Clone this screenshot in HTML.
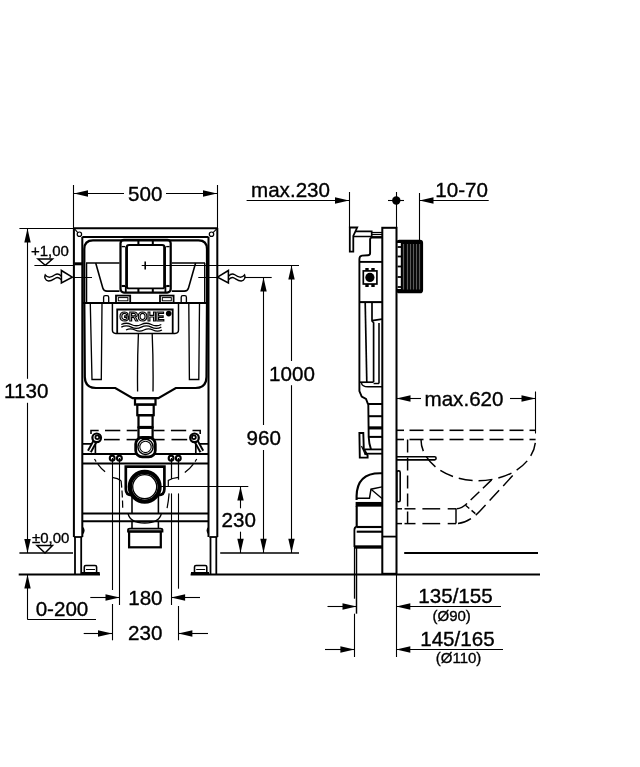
<!DOCTYPE html>
<html><head><meta charset="utf-8"><style>
html,body{margin:0;padding:0;background:#fff;width:640px;height:767px;overflow:hidden}
svg{display:block;will-change:transform}
text{font-family:"Liberation Sans",sans-serif;fill:#000;stroke:#000;stroke-width:0.35px}
</style></head><body>
<svg width="640" height="767" viewBox="0 0 640 767" stroke="#000" fill="none" stroke-linecap="butt">
<line x1="73.5" y1="185" x2="73.5" y2="228" stroke-width="1.1" />
<line x1="217.5" y1="185" x2="217.5" y2="228" stroke-width="1.1" />
<line x1="74" y1="193.5" x2="124" y2="193.5" stroke-width="1.1" />
<line x1="166" y1="193.5" x2="217" y2="193.5" stroke-width="1.1" />
<path d="M74,193.5 L88,190.3 L88,196.7 Z" fill="#000" stroke="none"/>
<path d="M217,193.5 L203,190.3 L203,196.7 Z" fill="#000" stroke="none"/>
<text x="145.3" y="200.7" font-size="20.6" text-anchor="middle" >500</text>
<line x1="19.4" y1="228.5" x2="74" y2="228.5" stroke-width="1.1" />
<line x1="27.5" y1="228.5" x2="27.5" y2="378.8" stroke-width="1.1" />
<line x1="27.5" y1="402.8" x2="27.5" y2="553" stroke-width="1.1" />
<path d="M27.5,228.5 L24.3,242.5 L30.7,242.5 Z" fill="#000" stroke="none"/>
<path d="M27.5,553 L24.3,539 L30.7,539 Z" fill="#000" stroke="none"/>
<text x="26.2" y="398.1" font-size="20.6" text-anchor="middle" >1130</text>
<line x1="34.4" y1="265.5" x2="74" y2="265.5" stroke-width="1.1" />
<text x="31" y="255.6" font-size="15" text-anchor="start" >+1,00</text>
<line x1="19.4" y1="553" x2="73" y2="553" stroke-width="1.57" />
<text x="32" y="543.1" font-size="15" text-anchor="start" >±0,00</text>
<line x1="27.5" y1="574.4" x2="27.5" y2="619" stroke-width="1.1" />
<line x1="27.2" y1="619.5" x2="96" y2="619.5" stroke-width="1.1" />
<path d="M27.5,574.4 L24.3,588.4 L30.7,588.4 Z" fill="#000" stroke="none"/>
<text x="62" y="616.3" font-size="20.6" text-anchor="middle" >0-200</text>
<line x1="18.7" y1="574.4" x2="100" y2="574.4" stroke-width="2.02" />
<line x1="190.6" y1="574.4" x2="540" y2="574.4" stroke-width="2.02" />
<line x1="112.5" y1="458" x2="112.5" y2="590" stroke-width="1.1" />
<line x1="112.5" y1="604" x2="112.5" y2="640.3" stroke-width="1.1" />
<line x1="119.5" y1="458" x2="119.5" y2="605" stroke-width="1.1" />
<line x1="171.5" y1="458" x2="171.5" y2="479" stroke-width="1.23" />
<line x1="171.5" y1="493.4" x2="171.5" y2="605" stroke-width="1.1" />
<line x1="178.5" y1="458" x2="178.5" y2="479.7" stroke-width="1.23" />
<line x1="178.5" y1="493.4" x2="178.5" y2="588.7" stroke-width="1.1" />
<line x1="178.5" y1="606" x2="178.5" y2="640.3" stroke-width="1.1" />
<path d="M178.3,477.3 L172.6,478.5 L168.3,480.5 L168.3,486.7" stroke-width="1.23" fill="none" />
<line x1="90.3" y1="597.5" x2="119.5" y2="597.5" stroke-width="1.1" />
<path d="M119.5,597.5 L105.5,594.3 L105.5,600.7 Z" fill="#000" stroke="none"/>
<line x1="171.1" y1="597.5" x2="200" y2="597.5" stroke-width="1.1" />
<path d="M171.1,597.5 L185.1,594.3 L185.1,600.7 Z" fill="#000" stroke="none"/>
<text x="145.4" y="605" font-size="20.6" text-anchor="middle" >180</text>
<line x1="83.7" y1="633.5" x2="112" y2="633.5" stroke-width="1.1" />
<path d="M112,633.5 L98,630.3 L98,636.7 Z" fill="#000" stroke="none"/>
<line x1="178.4" y1="633.5" x2="208" y2="633.5" stroke-width="1.1" />
<path d="M178.4,633.5 L192.4,630.3 L192.4,636.7 Z" fill="#000" stroke="none"/>
<text x="145.3" y="640.3" font-size="20.6" text-anchor="middle" >230</text>
<line x1="217" y1="265.5" x2="299" y2="265.5" stroke-width="1.1" />
<line x1="244.6" y1="277.5" x2="271.7" y2="277.5" stroke-width="1.1" />
<line x1="291.5" y1="265.4" x2="291.5" y2="361" stroke-width="1.1" />
<line x1="291.5" y1="385.2" x2="291.5" y2="553" stroke-width="1.1" />
<path d="M291.5,265.4 L288.3,279.4 L294.7,279.4 Z" fill="#000" stroke="none"/>
<path d="M291.5,552.8 L288.3,538.8 L294.7,538.8 Z" fill="#000" stroke="none"/>
<line x1="263.5" y1="277.4" x2="263.5" y2="425" stroke-width="1.1" />
<line x1="263.5" y1="450" x2="263.5" y2="553" stroke-width="1.1" />
<path d="M263.5,277.4 L260.3,291.4 L266.7,291.4 Z" fill="#000" stroke="none"/>
<path d="M263.5,552.8 L260.3,538.8 L266.7,538.8 Z" fill="#000" stroke="none"/>
<text x="292" y="380.5" font-size="20.6" text-anchor="middle" >1000</text>
<text x="263.7" y="445.3" font-size="20.6" text-anchor="middle" >960</text>
<line x1="144" y1="486.5" x2="248.3" y2="486.5" stroke-width="1.1" />
<line x1="240.5" y1="486.5" x2="240.5" y2="508.3" stroke-width="1.1" />
<line x1="240.5" y1="531.7" x2="240.5" y2="553" stroke-width="1.1" />
<path d="M240.5,486.5 L237.3,500.5 L243.7,500.5 Z" fill="#000" stroke="none"/>
<path d="M240.5,552.8 L237.3,538.8 L243.7,538.8 Z" fill="#000" stroke="none"/>
<text x="238.7" y="527" font-size="20.6" text-anchor="middle" >230</text>
<line x1="220.2" y1="553" x2="299" y2="553" stroke-width="1.57" />
<line x1="73.9" y1="228" x2="73.9" y2="537" stroke-width="2.02" />
<line x1="217.3" y1="228" x2="217.3" y2="537" stroke-width="2.02" />
<line x1="73.9" y1="228.2" x2="217.3" y2="228.2" stroke-width="2.02" />
<line x1="82.3" y1="237" x2="82.3" y2="537" stroke-width="2.02" />
<line x1="208.5" y1="237" x2="208.5" y2="537" stroke-width="2.02" />
<line x1="82.3" y1="237" x2="208.5" y2="237" stroke-width="2.02" />
<line x1="73.9" y1="537" x2="82.3" y2="537" stroke-width="1.79" />
<line x1="209.4" y1="537" x2="217.3" y2="537" stroke-width="1.79" />
<line x1="75" y1="537" x2="75" y2="574" stroke-width="1.79" />
<line x1="81.2" y1="537" x2="81.2" y2="574" stroke-width="1.79" />
<line x1="210.5" y1="537" x2="210.5" y2="574" stroke-width="1.79" />
<line x1="216.3" y1="537" x2="216.3" y2="574" stroke-width="1.79" />
<line x1="82.3" y1="454" x2="208.5" y2="454" stroke-width="2.02" />
<line x1="82.3" y1="463.4" x2="208.5" y2="463.4" stroke-width="2.02" />
<line x1="82.3" y1="513.4" x2="208.5" y2="513.4" stroke-width="2.02" />
<line x1="82.3" y1="521.3" x2="208.5" y2="521.3" stroke-width="2.02" />
<circle cx="79.4" cy="234.2" r="2.2" stroke-width="1.23" fill="none"/>
<circle cx="211.5" cy="234.2" r="2.2" stroke-width="1.23" fill="none"/>
<line x1="74.5" y1="228.8" x2="77.8" y2="232.6" stroke-width="1.1" />
<line x1="216.7" y1="228.8" x2="213.1" y2="232.6" stroke-width="1.1" />
<rect x="74.5" y="262.3" width="8" height="3" rx="0" stroke-width="0" fill="#000" />
<path d="M84.3,303 L84.3,249 Q84.3,240.3 93,240.3 L198.5,240.3 Q207,240.3 207,249 L207,303" stroke-width="2.24" fill="none" />
<line x1="86" y1="263" x2="119.5" y2="263" stroke-width="1.57" />
<line x1="171.8" y1="263" x2="205" y2="263" stroke-width="1.57" />
<line x1="86.6" y1="263" x2="86.6" y2="303" stroke-width="1.34" />
<line x1="204.7" y1="263" x2="204.7" y2="303" stroke-width="1.34" />
<path d="M95.7,263 L102.8,288 Q103.6,291.1 107,291.1 L119.5,291.1" stroke-width="1.57" fill="none" />
<path d="M195.6,263 L188.5,288 Q187.7,291.1 184.3,291.1 L171.8,291.1" stroke-width="1.57" fill="none" />
<line x1="74" y1="277.5" x2="92" y2="277.5" stroke-width="0.99" />
<line x1="198.3" y1="277.5" x2="217" y2="277.5" stroke-width="0.99" />
<rect x="120.5" y="239.8" width="50.2" height="52.8" rx="3.5" stroke-width="2.24" fill="none" />
<rect x="126.6" y="245" width="38" height="43.4" rx="2.5" stroke-width="1.9" fill="none" />
<line x1="126.6" y1="246.5" x2="126.6" y2="287" stroke-width="2.69" />
<line x1="164.6" y1="246.5" x2="164.6" y2="287" stroke-width="2.69" />
<line x1="125.8" y1="286" x2="125.8" y2="292" stroke-width="1.79" />
<line x1="165.4" y1="286" x2="165.4" y2="292" stroke-width="1.79" />
<line x1="126.4" y1="290.5" x2="164.8" y2="290.5" stroke-width="0" />
<line x1="138.4" y1="240.5" x2="138.4" y2="245" stroke-width="2.02" />
<line x1="152.8" y1="240.5" x2="152.8" y2="245" stroke-width="2.02" />
<line x1="138.4" y1="288.3" x2="138.4" y2="292" stroke-width="2.02" />
<line x1="152.8" y1="288.3" x2="152.8" y2="292" stroke-width="2.02" />
<line x1="121.6" y1="246.6" x2="125" y2="246.6" stroke-width="1.34" />
<line x1="166.2" y1="246.6" x2="169.6" y2="246.6" stroke-width="1.34" />
<line x1="121.6" y1="285.5" x2="125" y2="285.5" stroke-width="1.1" />
<line x1="166.2" y1="285.5" x2="169.6" y2="285.5" stroke-width="1.1" />
<line x1="121.6" y1="286.5" x2="125" y2="286.5" stroke-width="1.1" />
<line x1="166.2" y1="286.5" x2="169.6" y2="286.5" stroke-width="1.1" />
<line x1="141.7" y1="265.5" x2="217" y2="265.5" stroke-width="1.1" />
<line x1="145.2" y1="261.5" x2="145.2" y2="269.5" stroke-width="1.57" />
<path d="M103.6,303 L103.6,297.2 Q103.6,295.6 105.2,295.6 L107.1,295.6 Q108.7,295.6 108.7,297.2 L108.7,303" stroke-width="1.34" fill="none" />
<rect x="116" y="295.6" width="14.2" height="7.4" rx="0" stroke-width="1.79" fill="none" />
<rect x="118.3" y="297.6" width="9.6" height="3.2" rx="0" stroke-width="0.99" fill="none" />
<rect x="160" y="295.6" width="13.6" height="7.4" rx="0" stroke-width="1.79" fill="none" />
<rect x="162.3" y="297.6" width="9" height="3.2" rx="0" stroke-width="0.99" fill="none" />
<path d="M181.2,303 L181.2,297.2 Q181.2,295.6 182.8,295.6 L184.8,295.6 Q186.4,295.6 186.4,297.2 L186.4,303" stroke-width="1.34" fill="none" />
<line x1="82.3" y1="303" x2="208.5" y2="303" stroke-width="2.13" />
<path d="M84.3,303 L84.8,377 Q85,388 96,388 L115.3,388 L132.6,398.2 L158.4,398.2 L175.8,388 L195.5,388 Q206.3,388 206.5,377 L207,303" stroke-width="2.24" fill="none" />
<path d="M90.3,304 L92,379.5 L101.3,379.5 L102,304" stroke-width="1.34" fill="none" />
<path d="M188.8,304 L189.4,379.5 L198.8,379.5 L199.5,304" stroke-width="1.34" fill="none" />
<path d="M112.4,303 L112.4,330 Q112.4,333.4 115.8,333.4 L175,333.4 Q178.5,333.4 178.5,330 L178.5,303" stroke-width="1.46" fill="none" />
<path d="M117.2,333.4 L117.2,309.5 L172.7,309.5 L172.7,333.4" stroke-width="1.79" fill="none" />
<text x="141.8" y="321.2" font-size="12.4" text-anchor="middle" font-weight="bold" letter-spacing="-0.2" style="fill:#fff;stroke:#000;stroke-width:1.2px">GROHE</text>
<circle cx="168.7" cy="313.6" r="2.8" stroke-width="0" fill="#000"/>
<path d="M121.3,324.5 q5,-2.5 10,0 t10,0 t10,0 t10,0" stroke-width="1.34" fill="none" />
<path d="M121.3,327.2 q5,-2.5 10,0 t10,0 t10,0 t10,0" stroke-width="1.34" fill="none" />
<path d="M126,330 q4.5,-2.2 9,0 t9,0 t9,0 t9,0" stroke-width="1.34" fill="none" />
<path d="M138.4,334 Q137.2,362 137.6,391.5" stroke-width="1.34" fill="none" />
<path d="M152.2,334 Q153.4,362 153,391.5" stroke-width="1.34" fill="none" />
<rect x="135" y="398.2" width="20.5" height="6.4" rx="0" stroke-width="2.24" fill="none" />
<rect x="137.3" y="404.6" width="16.4" height="10.6" rx="0" stroke-width="2.24" fill="none" />
<rect x="138.5" y="415.2" width="14.1" height="11.8" rx="0" stroke-width="2.24" fill="none" />
<line x1="138.5" y1="427.6" x2="152.6" y2="427.6" stroke-width="2.46" />
<rect x="138.5" y="427.6" width="14.1" height="10" rx="0" stroke-width="2.24" fill="none" />
<rect x="135.7" y="437.5" width="19.6" height="19.4" rx="6.5" stroke-width="2.8" fill="#fff" />
<circle cx="145.5" cy="446.9" r="7.6" stroke-width="1.46" fill="#fff"/>
<circle cx="145.5" cy="446.9" r="5.7" stroke-width="1.1" fill="none"/>
<path d="M91,434 L91,430.5 L98.7,430.5" stroke-width="1.57" fill="none" />
<path d="M200.2,434 L200.2,430.5 L192.5,430.5" stroke-width="1.57" fill="none" />
<line x1="105" y1="430.5" x2="120.3" y2="430.5" stroke-width="1.57" />
<line x1="126.7" y1="430.5" x2="137.5" y2="430.5" stroke-width="1.57" />
<line x1="153.5" y1="430.5" x2="164.5" y2="430.5" stroke-width="1.57" />
<line x1="170.9" y1="430.5" x2="186.2" y2="430.5" stroke-width="1.57" />
<line x1="104" y1="439.6" x2="119.7" y2="439.6" stroke-width="1.57" />
<line x1="126.6" y1="439.6" x2="137.5" y2="439.6" stroke-width="1.57" />
<line x1="153.5" y1="439.6" x2="164.6" y2="439.6" stroke-width="1.57" />
<line x1="171.5" y1="439.6" x2="187.2" y2="439.6" stroke-width="1.57" />
<path d="M195.8,453.7 L195.8,443.9 L208.4,443.9" stroke-width="1.68" fill="none" />
<line x1="195.2" y1="439.5" x2="201.8" y2="451.5" stroke-width="5.15" />
<line x1="195.2" y1="439.5" x2="201.8" y2="451.5" stroke-width="1.34" stroke="#fff"/>
<circle cx="194.5" cy="437.8" r="4.3" stroke-width="2.24" fill="#fff"/>
<circle cx="193.9" cy="437.2" r="1.9" stroke-width="1.79" fill="none"/>
<path d="M95.4,453.7 L95.4,443.9 L82.8,443.9" stroke-width="1.68" fill="none" />
<line x1="96.0" y1="439.5" x2="89.4" y2="451.5" stroke-width="5.15" />
<line x1="96.0" y1="439.5" x2="89.4" y2="451.5" stroke-width="1.34" stroke="#fff"/>
<circle cx="96.7" cy="437.8" r="4.3" stroke-width="2.24" fill="#fff"/>
<circle cx="97.3" cy="437.2" r="1.9" stroke-width="1.79" fill="none"/>
<circle cx="112.2" cy="458.2" r="2.4" stroke-width="2.13" fill="none"/>
<circle cx="119.4" cy="458.2" r="2.4" stroke-width="2.13" fill="none"/>
<circle cx="171.1" cy="458.2" r="2.4" stroke-width="2.13" fill="none"/>
<circle cx="178.3" cy="458.2" r="2.4" stroke-width="2.13" fill="none"/>
<path d="M94.5,459 Q99,467 105.1,471.8" stroke-width="1.23" fill="none" stroke-dasharray="3 3 20"/>
<path d="M196.7,459 Q192,467 184.8,472.6" stroke-width="1.23" fill="none" stroke-dasharray="3 3 20"/>
<path d="M112.1,477.3 Q118,478.2 121.1,480.8" stroke-width="1.23" fill="none" />
<path d="M121.1,480.8 Q122.5,494 122.7,508.2" stroke-width="1.23" fill="none" stroke-dasharray="7 3"/>
<path d="M169.1,493.4 Q168.5,501 167.1,508.2" stroke-width="1.23" fill="none" />
<path d="M125.8,466.6 L125.8,489 Q125.8,495.2 132,495.2 L158.2,495.2 Q164.4,495.2 164.4,489 L164.4,466.6 Z" stroke-width="2.69" fill="none" />
<circle cx="144.7" cy="486.7" r="14.9" stroke-width="4.26" fill="#fff"/>
<circle cx="144.7" cy="486.7" r="12.0" stroke-width="1.34" fill="none"/>
<line x1="132" y1="495.2" x2="132" y2="513.3" stroke-width="1.57" />
<line x1="158.4" y1="495.2" x2="158.4" y2="513.3" stroke-width="1.57" />
<path d="M128,513.3 Q130,523 144.7,523 Q159.4,523 161.4,513.3" stroke-width="1.34" fill="none" />
<line x1="132" y1="521.3" x2="132" y2="529" stroke-width="1.57" />
<line x1="158.4" y1="521.3" x2="158.4" y2="529" stroke-width="1.57" />
<path d="M128,531.5 L128,530 Q128,528.6 130,528.6 L160.5,528.6 Q162.5,528.6 162.5,530 L162.5,531.5 Z" stroke-width="1.79" fill="none" />
<rect x="129.1" y="531.5" width="31.7" height="15.8" rx="0" stroke-width="2.24" fill="none" />
<rect x="84.3" y="565.5" width="12.3" height="8.5" rx="1.5" stroke-width="1.57" fill="none" />
<line x1="82" y1="573" x2="99.7" y2="573" stroke-width="2.02" />
<line x1="86" y1="569.5" x2="95" y2="569.5" stroke-width="0.99" />
<rect x="194.5" y="565.5" width="12.3" height="8.5" rx="1.5" stroke-width="1.57" fill="none" />
<line x1="191" y1="573" x2="209" y2="573" stroke-width="2.02" />
<line x1="196.2" y1="569.5" x2="205.2" y2="569.5" stroke-width="0.99" />
<path d="M82.6,527.5 Q85.2,530.6 82.6,533.7" stroke-width="1.46" fill="#000" />
<path d="M208.6,527.5 Q206,530.6 208.6,533.7" stroke-width="1.46" fill="#000" />
<path d="M38,259 L52.5,259 L45.3,265.2 Z" stroke-width="1.46" fill="none" />
<path d="M61.4,270.5 L61.4,282.9 L72.3,277.2 Z" stroke-width="1.57" fill="none" />
<path d="M61.4,276.2 C59,273.6 57.5,273 55,274.8 C51.5,277.5 48,278.5 45.2,274.8 C44.2,277 45,280.5 48.5,281 C51.5,281.2 54,278.8 56,277.8 C58,276.8 59.5,278 61.4,279.8" stroke-width="1.34" fill="none" />
<path d="M228.4,270.5 L228.4,282.9 L217.5,277.2 Z" stroke-width="1.57" fill="none" />
<path d="M228.4,276.2 C230.8,273.6 232.3,273 234.8,274.8 C238.3,277.5 241.8,278.5 244.6,274.8 C245.6,277 244.8,280.5 241.3,281 C238.3,281.2 235.8,278.8 233.8,277.8 C231.8,276.8 230.3,278 228.4,279.8" stroke-width="1.34" fill="none" />
<path d="M37,545.6 L52.5,545.6 L45,553 Z" stroke-width="1.46" fill="none" />
<line x1="349.5" y1="192" x2="349.5" y2="228" stroke-width="1.1" />
<line x1="246.6" y1="200.5" x2="349" y2="200.5" stroke-width="1.1" />
<path d="M349,200.5 L335,197.3 L335,203.7 Z" fill="#000" stroke="none"/>
<text x="290.5" y="197.2" font-size="20.6" text-anchor="middle" >max.230</text>
<line x1="419.5" y1="193" x2="419.5" y2="240.6" stroke-width="1.1" />
<line x1="419.5" y1="200.5" x2="488.7" y2="200.5" stroke-width="1.1" />
<path d="M419.5,200.5 L433.5,197.3 L433.5,203.7 Z" fill="#000" stroke="none"/>
<text x="461.6" y="197" font-size="20.6" text-anchor="middle" >10-70</text>
<circle cx="396.3" cy="200.5" r="4.2" stroke-width="0" fill="#000"/>
<line x1="388" y1="200.5" x2="404" y2="200.5" stroke-width="1.1" />
<line x1="396.5" y1="192" x2="396.5" y2="228" stroke-width="1.1" />
<rect x="382.3" y="227.8" width="14.2" height="346" rx="0" stroke-width="2.02" fill="none" />
<line x1="382.3" y1="536.6" x2="396.5" y2="536.6" stroke-width="1.79" />
<rect x="397.2" y="240.6" width="25" height="51.8" rx="2.2" stroke-width="1.79" fill="#000" />
<rect x="397.6" y="243" width="3.2" height="46" rx="0" stroke-width="0" fill="#fff" />
<line x1="397.6" y1="247" x2="401" y2="247" stroke-width="1.79" />
<line x1="397.6" y1="256.5" x2="401" y2="256.5" stroke-width="1.79" />
<line x1="397.6" y1="266.5" x2="401" y2="266.5" stroke-width="1.79" />
<line x1="397.6" y1="277" x2="401" y2="277" stroke-width="1.79" />
<line x1="397.6" y1="287" x2="401" y2="287" stroke-width="1.79" />
<line x1="403.5" y1="244" x2="403.5" y2="289.5" stroke-width="1.23" stroke="#5a5a5a"/>
<line x1="407.5" y1="244" x2="407.5" y2="289.5" stroke-width="1.23" stroke="#5a5a5a"/>
<line x1="410.5" y1="244" x2="410.5" y2="289.5" stroke-width="1.23" stroke="#5a5a5a"/>
<line x1="413.5" y1="244" x2="413.5" y2="289.5" stroke-width="1.23" stroke="#5a5a5a"/>
<line x1="416.5" y1="244" x2="416.5" y2="289.5" stroke-width="1.23" stroke="#5a5a5a"/>
<line x1="419.5" y1="244" x2="419.5" y2="289.5" stroke-width="1.23" stroke="#5a5a5a"/>
<path d="M349.8,227.5 L357.2,227.5 L353.3,236 L353.3,251.7 L349.8,251.7 Z" stroke-width="1.79" fill="none" />
<path d="M355.6,231.4 L371.7,231.4 L371.7,236.5 L353.8,236.5" stroke-width="1.68" fill="none" />
<line x1="371.7" y1="232.5" x2="382" y2="232.5" stroke-width="1.23" />
<line x1="371.7" y1="234.5" x2="382" y2="234.5" stroke-width="1.23" />
<line x1="371.7" y1="236.8" x2="382" y2="236.8" stroke-width="1.46" />
<path d="M382,237.6 L372,237.6 Q370.1,237.6 370.1,239.6 L370.1,253 Q370.1,255.2 368,255.2 L362,255.6 Q359.4,256 359.4,259 L359.4,391 L361.7,396.6 L366,398.9 L367.8,403.6 L368.5,404" stroke-width="1.9" fill="none" />
<line x1="359.4" y1="261.9" x2="382" y2="261.9" stroke-width="1.9" />
<rect x="363.3" y="270.9" width="13.6" height="13.1" rx="0" stroke-width="1.68" fill="none" />
<circle cx="369.9" cy="277.4" r="4.6" stroke-width="0" fill="#000"/>
<rect x="365.3" y="268" width="3.4" height="3" rx="0" stroke-width="0" fill="#000" />
<rect x="371.3" y="268" width="3.4" height="3" rx="0" stroke-width="0" fill="#000" />
<rect x="365.3" y="284" width="3.4" height="3" rx="0" stroke-width="0" fill="#000" />
<rect x="371.3" y="284" width="3.4" height="3" rx="0" stroke-width="0" fill="#000" />
<line x1="359.4" y1="302.1" x2="382" y2="302.1" stroke-width="2.02" />
<path d="M365.2,303 L366.8,382" stroke-width="1.68" fill="none" />
<path d="M372,303 L372,321 L373.6,322.8 L373.6,382" stroke-width="1.68" fill="none" />
<path d="M372,320.6 L382,319.2" stroke-width="1.68" fill="none" />
<path d="M379,323 L379,383.5" stroke-width="1.57" fill="none" />
<line x1="359.4" y1="382.2" x2="373.6" y2="382.2" stroke-width="1.68" />
<line x1="373.6" y1="383.5" x2="379" y2="383.5" stroke-width="1.46" />
<path d="M361.5,383 Q362,386.8 368,386.8 L382,386.8" stroke-width="1.46" fill="none" />
<line x1="368" y1="404" x2="382" y2="404" stroke-width="2.02" />
<line x1="368.5" y1="416.2" x2="382" y2="416.2" stroke-width="2.02" />
<line x1="368.7" y1="427.9" x2="382" y2="427.9" stroke-width="3.14" />
<line x1="368.7" y1="436.9" x2="382" y2="436.9" stroke-width="2.02" />
<path d="M368.3,404 L368.7,437 Q369,444 371,449.4" stroke-width="1.9" fill="none" />
<path d="M359.4,433 L363.3,433 L363.8,449 L367.6,455.6 L367.6,457.6 L359.8,457.6 Z" stroke-width="1.9" fill="none" />
<line x1="361.5" y1="446" x2="365.5" y2="455" stroke-width="1.23" />
<line x1="364.5" y1="449.4" x2="382" y2="449.4" stroke-width="1.79" />
<line x1="364.5" y1="453.7" x2="382" y2="453.7" stroke-width="1.79" />
<path d="M356.6,500 L356.6,496 Q357,473.2 380,473.2 L382,473.2" stroke-width="2.13" fill="none" />
<line x1="355.6" y1="504.3" x2="382" y2="504.3" stroke-width="4.7" />
<path d="M357,498.2 L369.5,498.2 L371,489.2 L382,486.9" stroke-width="1.46" fill="none" />
<line x1="371" y1="489.2" x2="382" y2="498.6" stroke-width="1.34" />
<rect x="396.8" y="470.9" width="3.4" height="30.8" rx="1.5" stroke-width="1.57" fill="none" />
<line x1="356.7" y1="506" x2="356.7" y2="527" stroke-width="2.13" />
<line x1="356.7" y1="527" x2="382" y2="527" stroke-width="2.13" />
<line x1="356.7" y1="531.7" x2="382" y2="531.7" stroke-width="2.13" />
<line x1="354.4" y1="527" x2="382" y2="547" stroke-width="0" />
<line x1="354.4" y1="547" x2="382" y2="547" stroke-width="3.36" />
<path d="M356.7,527 Q354.4,527 354.4,530 L354.4,547" stroke-width="1.79" fill="none" />
<line x1="396.5" y1="398.5" x2="421" y2="398.5" stroke-width="1.1" />
<path d="M396.5,398.5 L410.5,395.3 L410.5,401.7 Z" fill="#000" stroke="none"/>
<text x="464" y="406.2" font-size="20.6" text-anchor="middle" >max.620</text>
<line x1="510" y1="398.5" x2="535.5" y2="398.5" stroke-width="1.1" />
<path d="M535.5,398.5 L521.5,395.3 L521.5,401.7 Z" fill="#000" stroke="none"/>
<line x1="535.5" y1="391.5" x2="535.5" y2="433.5" stroke-width="1.1" />
<line x1="397" y1="430.3" x2="404" y2="430.3" stroke-width="1.57" />
<line x1="409.5" y1="430.3" x2="423.5" y2="430.3" stroke-width="1.57" />
<line x1="429.5" y1="430.3" x2="443.5" y2="430.3" stroke-width="1.57" />
<line x1="449.5" y1="430.3" x2="463.5" y2="430.3" stroke-width="1.57" />
<line x1="469.5" y1="430.3" x2="483.5" y2="430.3" stroke-width="1.57" />
<line x1="489.5" y1="430.3" x2="503.5" y2="430.3" stroke-width="1.57" />
<line x1="509.5" y1="430.3" x2="523.5" y2="430.3" stroke-width="1.57" />
<line x1="529.5" y1="430.3" x2="535.6" y2="430.3" stroke-width="1.57" />
<line x1="397" y1="439.5" x2="404" y2="439.5" stroke-width="1.57" />
<line x1="409.5" y1="439.5" x2="423.5" y2="439.5" stroke-width="1.57" />
<line x1="429.5" y1="439.5" x2="443.5" y2="439.5" stroke-width="1.57" />
<line x1="449.5" y1="439.5" x2="463.5" y2="439.5" stroke-width="1.57" />
<line x1="469.5" y1="439.5" x2="483.5" y2="439.5" stroke-width="1.57" />
<line x1="489.5" y1="439.5" x2="503.5" y2="439.5" stroke-width="1.57" />
<line x1="509.5" y1="439.5" x2="523.5" y2="439.5" stroke-width="1.57" />
<line x1="529.5" y1="439.5" x2="535.6" y2="439.5" stroke-width="1.57" />
<path d="M421,439.5 A57,41 0 0 0 535.5,439.5" stroke-width="1.46" fill="none" stroke-dasharray="14 6" stroke-dashoffset="2"/>
<path d="M407.6,439.5 L407.6,523.6" stroke-width="1.46" fill="none" stroke-dasharray="13 5"/>
<line x1="397" y1="508.8" x2="402" y2="508.8" stroke-width="1.46" />
<line x1="404.5" y1="508.8" x2="415.5" y2="508.8" stroke-width="1.46" />
<line x1="422.4" y1="508.8" x2="440.2" y2="508.8" stroke-width="1.46" />
<line x1="447.7" y1="508.8" x2="456" y2="508.8" stroke-width="1.46" />
<line x1="397" y1="523.6" x2="402" y2="523.6" stroke-width="1.46" />
<line x1="404.5" y1="523.6" x2="415.5" y2="523.6" stroke-width="1.46" />
<line x1="422.4" y1="523.6" x2="440.2" y2="523.6" stroke-width="1.46" />
<line x1="447.7" y1="523.6" x2="456" y2="523.6" stroke-width="1.46" />
<path d="M456,508.8 L456,523.6" stroke-width="1.46" fill="none" />
<path d="M512.7,475.6 L480,511 Q468,523.6 456,523.6" stroke-width="1.46" fill="none" stroke-dasharray="14 6"/>
<path d="M491.6,479.9 L467,503.5 Q461.5,508.8 456,508.8" stroke-width="1.46" fill="none" stroke-dasharray="12 5"/>
<line x1="465.5" y1="505.2" x2="476.1" y2="514.3" stroke-width="1.46" stroke-dasharray="5 3"/>
<path d="M397,456.8 L434.6,456.8 Q436.1,456.8 436.1,458.35 Q436.1,459.9 434.6,459.9 L397,459.9" stroke-width="1.57" fill="none" />
<line x1="404.2" y1="553" x2="538" y2="553" stroke-width="2.02" />
<line x1="354.5" y1="547" x2="354.5" y2="598.7" stroke-width="1.23" />
<line x1="356.5" y1="547" x2="356.5" y2="613.7" stroke-width="1.46" />
<line x1="354.5" y1="613.7" x2="354.5" y2="657" stroke-width="1.1" />
<line x1="396.5" y1="574" x2="396.5" y2="657" stroke-width="1.1" />
<line x1="327.5" y1="606.5" x2="356.5" y2="606.5" stroke-width="1.1" />
<path d="M356.5,606.5 L342.5,603.3 L342.5,609.7 Z" fill="#000" stroke="none"/>
<line x1="396.3" y1="606.5" x2="501" y2="606.5" stroke-width="1.1" />
<path d="M396.3,606.5 L410.3,603.3 L410.3,609.7 Z" fill="#000" stroke="none"/>
<line x1="325" y1="649.5" x2="354.4" y2="649.5" stroke-width="1.1" />
<path d="M354.4,649.5 L340.4,646.3 L340.4,652.7 Z" fill="#000" stroke="none"/>
<line x1="396.3" y1="649.5" x2="503" y2="649.5" stroke-width="1.1" />
<path d="M396.3,649.5 L410.3,646.3 L410.3,652.7 Z" fill="#000" stroke="none"/>
<text x="455.5" y="602.5" font-size="20.6" text-anchor="middle" >135/155</text>
<text x="451.7" y="621" font-size="15" text-anchor="middle" >(Ø90)</text>
<text x="457.4" y="645.7" font-size="20.6" text-anchor="middle" >145/165</text>
<text x="458.6" y="663.2" font-size="15" text-anchor="middle" >(Ø110)</text>
</svg>
</body></html>
